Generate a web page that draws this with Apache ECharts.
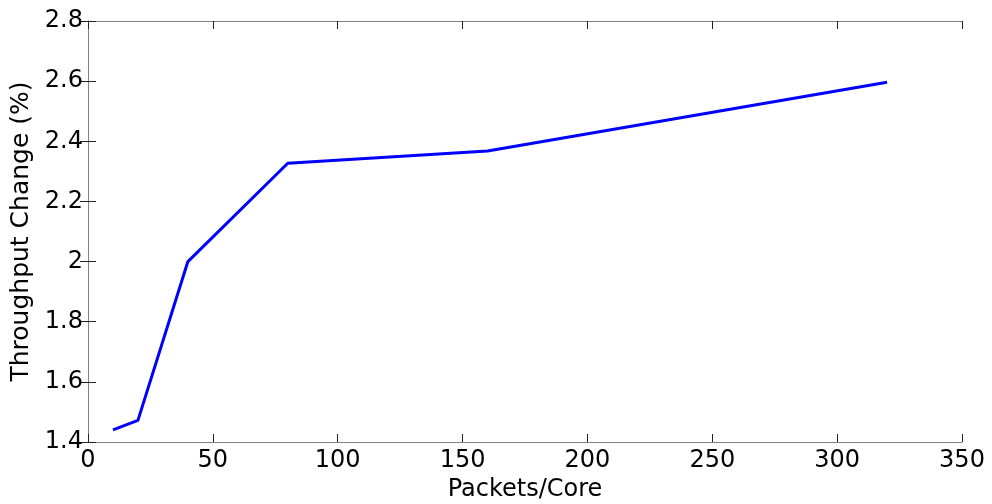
<!DOCTYPE html>
<html>
<head>
<meta charset="utf-8">
<script src="https://cdn.jsdelivr.net/npm/echarts@6/dist/echarts.min.js"></script>
<style>html,body{margin:0;padding:0;background:#fff}#c{width:992px;height:504px}</style>
</head>
<body>
<div id="c"></div>
<script>
var packetsPerCore = [10, 20, 40, 80, 160, 320];
var throughputChange = [1.44, 1.472, 2.0, 2.327, 2.368, 2.596];
var xTicks = [0, 50, 100, 150, 200, 250, 300, 350];
var yTicks = [1.4, 1.6, 1.8, 2, 2.2, 2.4, 2.6, 2.8];

var chart = echarts.init(document.getElementById('c'), null, {renderer: 'canvas'});
var font = 'DejaVu Sans, Arial, sans-serif';
var axisLine = {show: true, lineStyle: {color: '#808080', width: 1}};
var tick = {show: true, inside: true, length: 8, lineStyle: {color: '#222', width: 1}};
chart.setOption({
  animation: false,
  grid: {left: 88, right: 30, top: 21, bottom: 62, containLabel: false, outerBoundsMode: 'none'},
  xAxis: [{
    type: 'value', min: 0, max: 350, interval: 50, position: 'bottom',
    name: 'Packets/Core', nameLocation: 'middle', nameGap: 35,
    nameTextStyle: {fontFamily: font, fontSize: 24, color: '#000'},
    axisLine: axisLine, axisTick: tick, splitLine: {show: false},
    axisLabel: {fontFamily: font, fontSize: 24, color: '#000', margin: 7,
      formatter: function(v){ return xTicks.indexOf(v) >= 0 ? String(v) : ''; }}
  }, {
    type: 'value', min: 0, max: 350, interval: 50, position: 'top',
    axisLine: axisLine, axisTick: tick, axisLabel: {show: false}, splitLine: {show: false}
  }],
  yAxis: [{
    type: 'value', min: 1.4, max: 2.8, interval: 0.2, position: 'left',
    name: 'Throughput Change (%)', nameLocation: 'middle', nameGap: 50,
    nameTextStyle: {fontFamily: font, fontSize: 25, color: '#000'},
    axisLine: axisLine, axisTick: tick, splitLine: {show: false},
    axisLabel: {fontFamily: font, fontSize: 24, color: '#000', margin: 5,
      formatter: function(v){ var r = Math.round(v*10)/10; return String(r); }}
  }, {
    type: 'value', min: 1.4, max: 2.8, interval: 0.2, position: 'right',
    axisLine: axisLine, axisTick: tick, axisLabel: {show: false}, splitLine: {show: false}
  }],
  series: [{
    type: 'line',
    data: packetsPerCore.map(function(x, i){ return [x, throughputChange[i]]; }),
    showSymbol: false, symbol: 'none',
    lineStyle: {color: '#0000ff', width: 3},
    xAxisIndex: 0, yAxisIndex: 0
  }]
});
</script>
</body>
</html>
